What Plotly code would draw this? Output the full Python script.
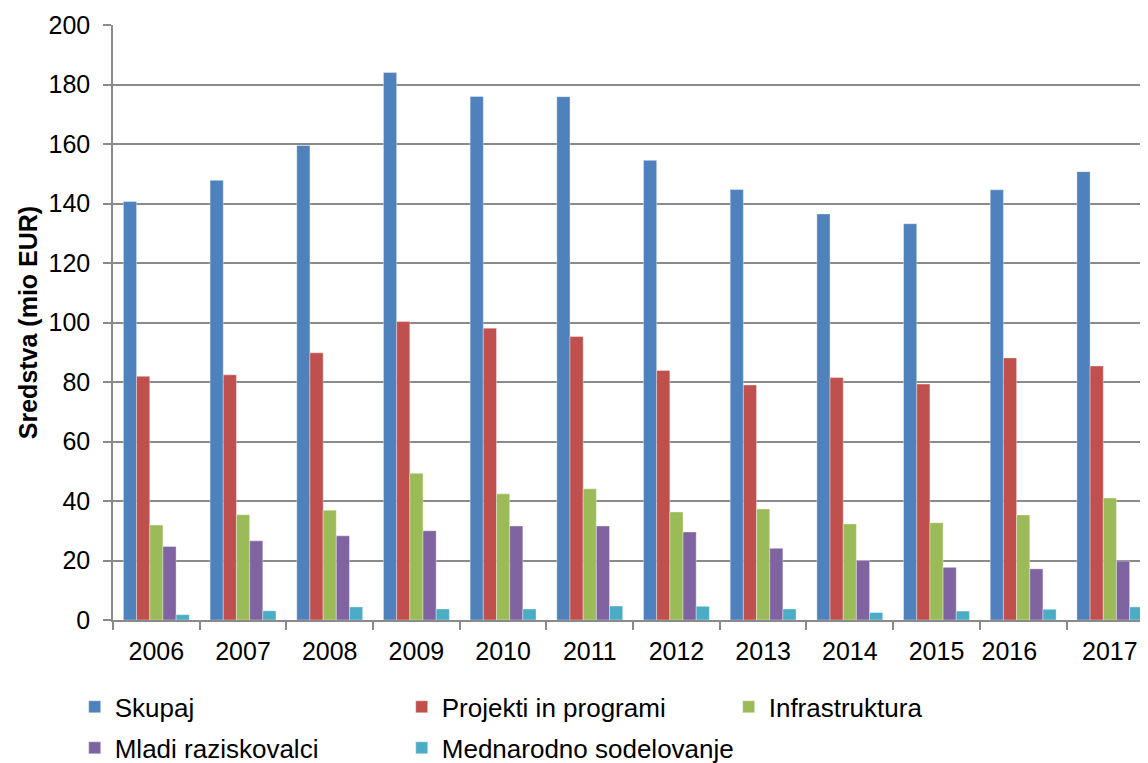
import plotly.graph_objects as go

years = ["2006", "2007", "2008", "2009", "2010", "2011",
         "2012", "2013", "2014", "2015", "2016", "2017"]
# Excel placed the 2016 label slightly left of its category centre
year_labels = ["2006", "2007", "2008", "2009", "2010", "2011",
               "2012", "2013", "2014", "2015", "2016\u00a0\u00a0\u00a0\u00a0", "2017"]
skupaj = [140.7, 147.8, 159.5, 184.0, 176.0, 175.9, 154.5, 144.7, 136.5, 133.2, 144.6, 150.7]
projekti = [81.9, 82.4, 89.8, 100.3, 98.1, 95.3, 83.9, 79.0, 81.5, 79.3, 88.1, 85.4]
infrastruktura = [31.9, 35.4, 36.9, 49.3, 42.4, 44.1, 36.3, 37.3, 32.3, 32.7, 35.3, 41.0]
mladi = [24.7, 26.6, 28.3, 30.0, 31.6, 31.6, 29.6, 24.1, 20.0, 17.7, 17.2, 19.8]
mednarodno = [1.8, 3.1, 4.4, 3.7, 3.7, 4.7, 4.6, 3.7, 2.5, 3.0, 3.6, 4.4]

series = [
    ("Skupaj", skupaj, "#4F81BD", "legend"),
    ("Projekti in programi", projekti, "#C0504D", "legend"),
    ("Infrastruktura", infrastruktura, "#9BBB59", "legend"),
    ("Mladi raziskovalci", mladi, "#8064A2", "legend2"),
    ("Mednarodno sodelovanje", mednarodno, "#4BACC6", "legend3"),
]

FONT = "Liberation Sans, Arial, sans-serif"
GRID = "#8a8a8a"

fig = go.Figure()
for name, vals, color, leg in series:
    fig.add_trace(go.Bar(
        x=years, y=vals, name=name, legend=leg,
        marker=dict(color=color, line=dict(color="rgba(255,255,255,0.45)", width=0.8)),
    ))

leg_common = dict(orientation="h", xanchor="left", yanchor="middle",
                  font=dict(size=26), bgcolor="rgba(0,0,0,0)", traceorder="normal")

# the page body adds an 8 px offset, so the figure is 8 px smaller and margins 8 px less
fig.update_layout(
    width=1140, height=755,
    margin=dict(l=105, r=0, t=17, b=143, pad=0, autoexpand=False),
    paper_bgcolor="white", plot_bgcolor="white",
    font=dict(family=FONT, size=25, color="black"),
    barmode="group", bargap=0.24, bargroupgap=0,
    legend=dict(x=-0.037, y=-0.146, entrywidth=282, entrywidthmode="pixels", **leg_common),
    legend2=dict(x=-0.037, y=-0.215, **leg_common),
    legend3=dict(x=0.279, y=-0.215, **leg_common),
)

fig.update_xaxes(
    type="category", range=[-0.5, 11.44], automargin=False,
    tickmode="array", tickvals=years, ticktext=year_labels, tickangle=0,
    showline=True, linecolor=GRID, linewidth=1.5,
    ticks="outside", tickson="boundaries", ticklen=8, tickcolor=GRID, tickwidth=1.5,
    showgrid=False, tickfont=dict(size=25), ticklabelstandoff=8,
)
fig.update_yaxes(
    range=[0, 200], tick0=0, dtick=20, automargin=False,
    showline=True, linecolor=GRID, linewidth=1.5,
    ticks="outside", ticklen=8, tickcolor=GRID, tickwidth=1.5,
    showgrid=True, gridcolor=GRID, gridwidth=1.5, zeroline=False,
    tickfont=dict(size=25), ticklabelstandoff=8,
    title=dict(text="<b>Sredstva (mio EUR)</b>", font=dict(size=25), standoff=4),
)

fig.write_html("out.html")
